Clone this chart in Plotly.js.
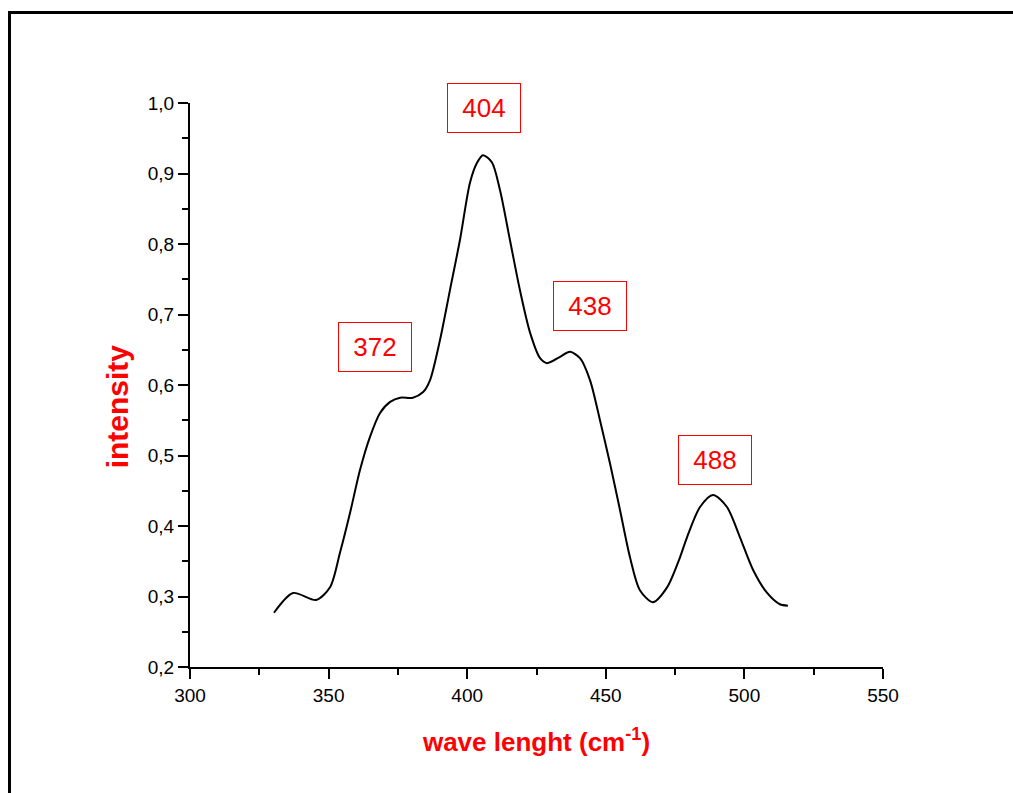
<!DOCTYPE html>
<html>
<head>
<meta charset="utf-8">
<script src="https://cdn.plot.ly/plotly-3.0.1.min.js"></script>
<style>
html,body{margin:0;padding:0;background:#fff;overflow:hidden;width:1013px;height:793px;}
#wrap{position:relative;width:1013px;height:793px;overflow:hidden;}
#chart{position:absolute;left:0;top:0;width:1013px;height:793px;}
#frame{position:absolute;left:8px;top:11px;width:1100px;height:900px;border-left:3px solid #000;border-top:3px solid #000;pointer-events:none;}
</style>
</head>
<body>
<div id="wrap"><div id="chart"></div><div id="frame"></div></div>
<script>
// Spectrum
const waveLength = [330.3, 337.2, 345.5, 350.5, 354.1, 357.7, 361.3, 364.9, 368.5, 372.2, 375.8, 380.4, 384.1, 386.6, 390.2, 393.8, 397.4, 401.0, 403.5, 405.7, 408.9, 411.8, 415.4, 419.0, 422.7, 426.3, 428.8, 433.5, 437.1, 440.7, 444.3, 447.9, 451.5, 455.1, 458.7, 462.3, 467.0, 472.1, 476.8, 479.3, 484.0, 488.7, 493.7, 498.4, 503.1, 508.2, 512.8, 515.7];
const intensity = [0.277, 0.305, 0.295, 0.313, 0.362, 0.418, 0.479, 0.526, 0.560, 0.576, 0.582, 0.582, 0.590, 0.607, 0.664, 0.735, 0.806, 0.887, 0.915, 0.926, 0.916, 0.877, 0.806, 0.735, 0.674, 0.638, 0.631, 0.640, 0.647, 0.638, 0.607, 0.550, 0.489, 0.423, 0.356, 0.309, 0.292, 0.313, 0.356, 0.384, 0.427, 0.444, 0.427, 0.384, 0.338, 0.305, 0.289, 0.287];

// Peak labels
const peakLabels = ["372", "404", "438", "488"];
const peakLabelX = [366.7, 406.1, 444.3, 489.4];
const peakLabelY = [0.654, 0.993, 0.712, 0.494];

const trace = {
  x: waveLength,
  y: intensity,
  type: 'scatter',
  mode: 'lines',
  line: {color: '#000', width: 2, shape: 'spline', smoothing: 0.8},
  hoverinfo: 'x+y'
};

const annotations = peakLabels.map((t, i) => ({
  x: peakLabelX[i], y: peakLabelY[i], xref: 'x', yref: 'y',
  text: t, showarrow: false,
  font: {family: 'Liberation Sans, Arial, sans-serif', size: 26, color: '#ff0000'},
  bordercolor: '#ff0000', borderwidth: 1, borderpad: 1,
  width: 70, height: 46, align: 'center', valign: 'middle'
}));

// y-axis title drawn as an annotation so it can sit where the reference has it
annotations.push({
  xref: 'paper', yref: 'paper', x: -0.104, y: 0.462,
  xanchor: 'center', yanchor: 'middle', textangle: -90,
  text: 'intensity', showarrow: false,
  font: {family: 'Liberation Sans, Arial, sans-serif', size: 30, color: '#ff0000', weight: 'bold'}
});

const axisFont = {family: 'Liberation Sans, Arial, sans-serif', size: 19, color: '#000'};

const layout = {
  width: 1013, height: 793,
  margin: {l: 190, r: 130, t: 103, b: 126},
  paper_bgcolor: 'rgba(0,0,0,0)', plot_bgcolor: 'rgba(0,0,0,0)',
  showlegend: false,
  separators: ',.',
  xaxis: {
    range: [300, 550], dtick: 50, tick0: 300,
    showgrid: false, zeroline: false,
    showline: true, linecolor: '#000', linewidth: 2,
    ticks: 'outside', ticklen: 10, tickwidth: 2, tickcolor: '#000',
    minor: {dtick: 25, ticks: 'outside', ticklen: 6, tickwidth: 2, tickcolor: '#000', showgrid: false},
    tickfont: axisFont,
    title: {text: 'wave lenght (cm<sup>-1</sup>)', standoff: 28,
      font: {family: 'Liberation Sans, Arial, sans-serif', size: 26, color: '#ff0000', weight: 'bold'}}
  },
  yaxis: {
    range: [0.2, 1.0], dtick: 0.1, tick0: 0.2, tickformat: '.1f',
    showgrid: false, zeroline: false,
    showline: true, linecolor: '#000', linewidth: 2,
    ticks: 'outside', ticklen: 10, tickwidth: 2, tickcolor: '#000',
    minor: {dtick: 0.05, ticks: 'outside', ticklen: 6, tickwidth: 2, tickcolor: '#000', showgrid: false},
    tickfont: axisFont
  },
  annotations: annotations
};

Plotly.newPlot('chart', [trace], layout, {displayModeBar: false, staticPlot: true});
</script>
</body>
</html>
